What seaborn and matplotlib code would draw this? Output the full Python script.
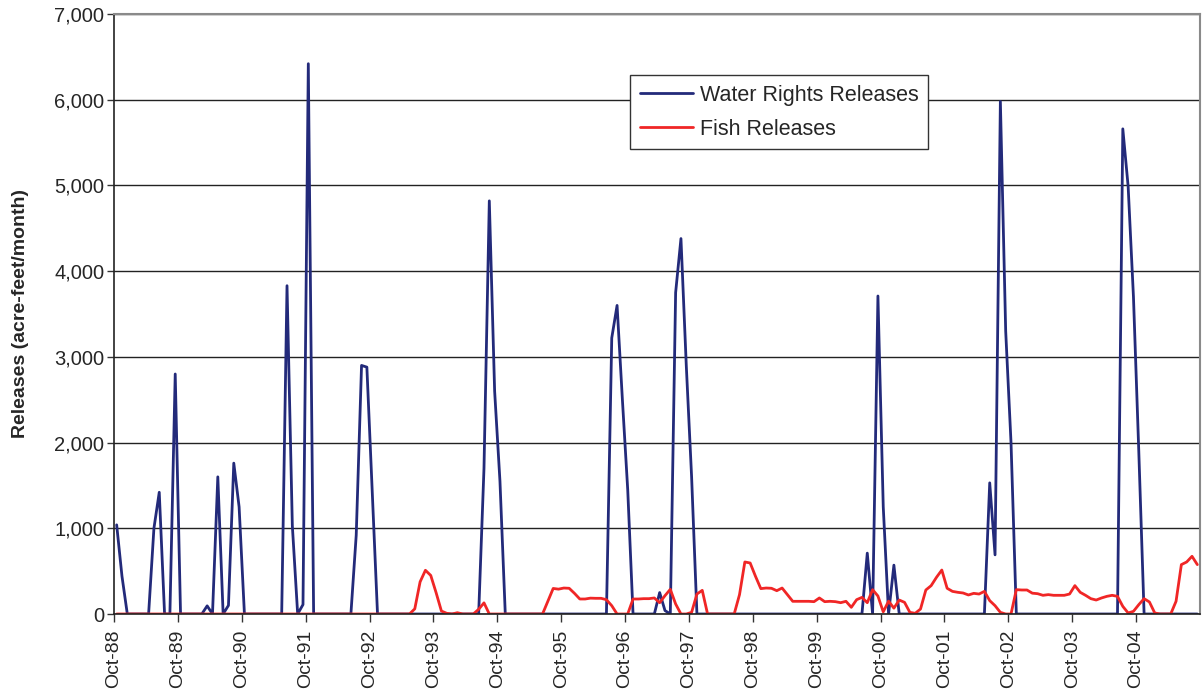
import matplotlib
matplotlib.use("Agg")
import matplotlib.pyplot as plt
import matplotlib.ticker as ticker
import numpy as np
import pandas as pd
import seaborn as sns

# Monthly releases (acre-feet/month), Oct-88 through Sep-05, one row per water year
WATER_RIGHTS = [
    1040, 440, 0, 0, 0, 0, 0, 1000, 1420, 0, 0, 2800,        # 88-89
    0, 0, 0, 0, 0, 95, 0, 1600, 0, 100, 1760, 1250,          # 89-90
    0, 0, 0, 0, 0, 0, 0, 0, 3830, 1030, 0, 110,              # 90-91
    6420, 0, 0, 0, 0, 0, 0, 0, 0, 920, 2900, 2880,           # 91-92
    1450, 0, 0, 0, 0, 0, 0, 0, 0, 0, 0, 0,                   # 92-93
    0, 0, 0, 0, 0, 0, 0, 0, 0, 1700, 4820, 2600,             # 93-94
    1550, 0, 0, 0, 0, 0, 0, 0, 0, 0, 0, 0,                   # 94-95
    0, 0, 0, 0, 0, 0, 0, 0, 0, 3220, 3600, 2500,             # 95-96
    1450, 0, 0, 0, 0, 0, 250, 40, 0, 3750, 4380, 2900,       # 96-97
    1600, 0, 0, 0, 0, 0, 0, 0, 0, 0, 0, 0,                   # 97-98
    0, 0, 0, 0, 0, 0, 0, 0, 0, 0, 0, 0,                      # 98-99
    0, 0, 0, 0, 0, 0, 0, 0, 0, 710, 0, 3710,                 # 99-00
    1250, 0, 570, 0, 0, 0, 0, 0, 0, 0, 0, 0,                 # 00-01
    0, 0, 0, 0, 0, 0, 0, 0, 1530, 690, 5980, 3300,           # 01-02
    2000, 0, 0, 0, 0, 0, 0, 0, 0, 0, 0, 0,                   # 02-03
    0, 0, 0, 0, 0, 0, 0, 0, 0, 5660, 4990, 3700,             # 03-04
    1900, 0, 0, 0, 0, 0, 0, 0, 0, 0, 0, 0,                   # 04-05
]

FISH = [
    0, 0, 0, 0, 0, 0, 0, 0, 0, 0, 0, 0,                      # 88-89
    0, 0, 0, 0, 0, 0, 0, 0, 0, 0, 0, 0,                      # 89-90
    0, 0, 0, 0, 0, 0, 0, 0, 0, 0, 0, 0,                      # 90-91
    0, 0, 0, 0, 0, 0, 0, 0, 0, 0, 0, 0,                      # 91-92
    0, 0, 0, 0, 0, 0, 0, 0, 60, 375, 510, 450,               # 92-93
    250, 35, 8, 0, 15, 0, 0, 0, 55, 130, 0, 0,               # 93-94
    0, 0, 0, 0, 0, 0, 0, 0, 0, 150, 298, 290,                # 94-95
    303, 300, 241, 175, 175, 185, 183, 183, 167, 97, 0, 0,   # 95-96
    0, 175, 175, 179, 179, 187, 132, 214, 288, 117, 0, 0,    # 96-97
    19, 233, 276, 0, 0, 0, 0, 0, 0, 226, 607, 595,           # 97-98
    440, 296, 303, 300, 272, 303, 226, 148, 148, 148, 148, 144,  # 98-99
    187, 144, 148, 144, 132, 148, 78, 167, 194, 132, 284, 210,   # 99-00
    25, 150, 68, 163, 136, 19, 8, 58, 280, 331, 428, 513,        # 00-01
    300, 264, 253, 245, 222, 241, 233, 264, 156, 97, 19, 0,      # 01-02
    0, 284, 280, 280, 243, 237, 218, 226, 218, 218, 218, 233,    # 02-03
    331, 253, 218, 179, 163, 187, 206, 218, 206, 89, 12, 31,     # 03-04
    109, 179, 140, 12, 0, 0, 0, 148, 576, 607, 673, 576,         # 04-05
]

YEAR_LABELS = ["Oct-88", "Oct-89", "Oct-90", "Oct-91", "Oct-92", "Oct-93",
               "Oct-94", "Oct-95", "Oct-96", "Oct-97", "Oct-98", "Oct-99",
               "Oct-00", "Oct-01", "Oct-02", "Oct-03", "Oct-04"]

SERIES = ["Water Rights Releases", "Fish Releases"]
COLORS = {"Water Rights Releases": "#232a7a", "Fish Releases": "#f02626"}

sns.set_style("white")
plt.rcParams["font.family"] = ["Liberation Sans", "DejaVu Sans"]

n = len(WATER_RIGHTS)
month = np.arange(n) + 0.5  # points sit mid-month on the date axis
df = pd.concat([
    pd.DataFrame({"month": month, "release": WATER_RIGHTS, "series": SERIES[0]}),
    pd.DataFrame({"month": month, "release": FISH, "series": SERIES[1]}),
], ignore_index=True)

fig = plt.figure(figsize=(12.04, 7.0), dpi=100)
ax = fig.add_axes([114 / 1204, 86 / 700, 1086 / 1204, 600 / 700])

sns.lineplot(data=df, x="month", y="release", hue="series", hue_order=SERIES,
             palette=COLORS, linewidth=2.0, ax=ax, legend=True)

ax.set_xlim(0, 204)
ax.set_ylim(0, 7000)

ax.yaxis.set_major_locator(ticker.MultipleLocator(1000))
ax.yaxis.set_major_formatter(ticker.FuncFormatter(lambda v, p: f"{int(v):,}"))
ax.grid(axis="y", color="#222222", linewidth=1.0)
ax.set_axisbelow(True)

ax.set_xticks(np.arange(0, 12 * len(YEAR_LABELS), 12))
ax.set_xticklabels(YEAR_LABELS, rotation=90)
ax.set_xticks(np.arange(6, 204, 12), minor=True)
ax.tick_params(axis="x", which="both", direction="out", length=6, width=1,
               color="#333333", labelsize=14, pad=5)
ax.tick_params(axis="y", direction="out", length=5, width=1, color="#333333",
               labelsize=14.5, pad=2)
ax.tick_params(axis="both", bottom=True, left=True)

ax.set_xlabel("")
ax.set_ylabel("Releases (acre-feet/month)", fontsize=14, fontweight="bold")
ax.yaxis.set_label_coords(-0.078, 0.5)

for side in ["left", "bottom"]:
    ax.spines[side].set_color("#222222")
    ax.spines[side].set_linewidth(1.2)
for side in ["top", "right"]:
    ax.spines[side].set_color("#8a8a8a")
    ax.spines[side].set_linewidth(1.5)

leg = ax.legend(loc="upper left", bbox_to_anchor=(0.475, 0.898), fontsize=15.5,
                frameon=True, fancybox=False, framealpha=1, edgecolor="#333333",
                handlelength=2.5, borderpad=0.45, labelspacing=0.6,
                handletextpad=0.3, borderaxespad=0)
leg.get_frame().set_linewidth(1.0)
for line in leg.get_lines():
    line.set_linewidth(2.0)

fig.savefig("out.png", dpi=100)
